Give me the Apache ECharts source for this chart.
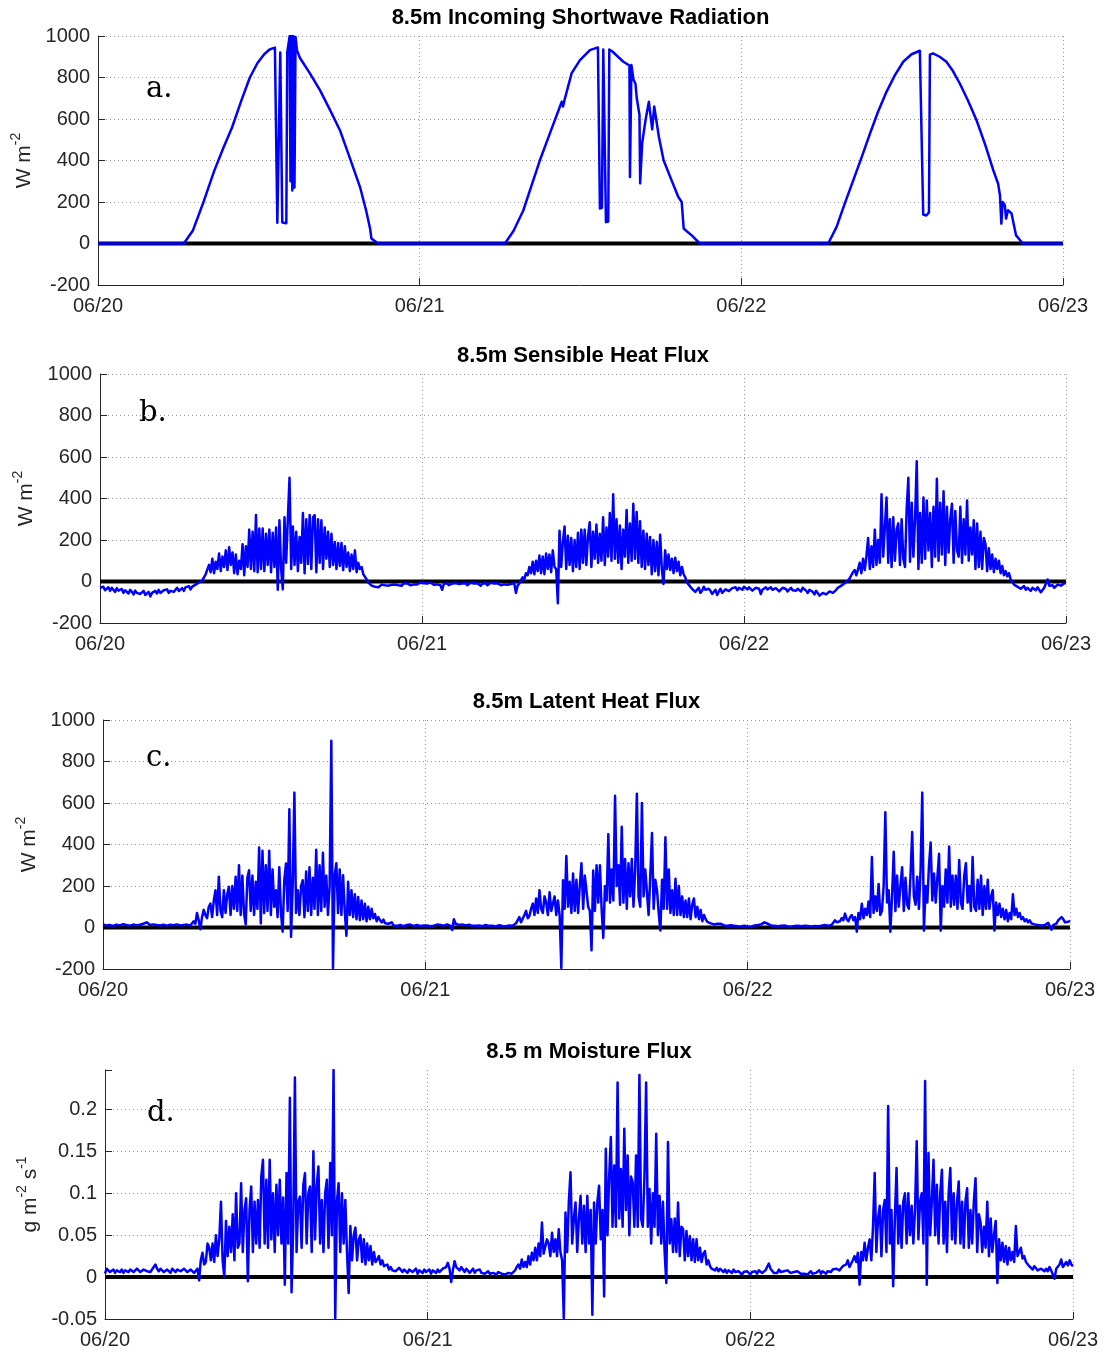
<!DOCTYPE html>
<html><head><meta charset="utf-8">
<script src="https://cdn.jsdelivr.net/npm/echarts@6/dist/echarts.min.js"></script>
<style>html,body{margin:0;padding:0;background:#fff}#c{width:1104px;height:1355px}</style>
</head><body><div id="c"></div><script>
// ---------- data ----------
const xTickLabels = ['06/20', '06/21', '06/22', '06/23'];
const fluxTickLabels = ['-200', '0', '200', '400', '600', '800', '1000'];
const moistureTickLabels = ['-0.05', '0', '0.05', '0.1', '0.15', '0.2'];
const titles = ['8.5m Incoming Shortwave Radiation', '8.5m Sensible Heat Flux', '8.5m Latent Heat Flux', '8.5 m Moisture Flux'];
const panelLetters = ['a.', 'b.', 'c.', 'd.'];
const STEP_HOURS = 0.125; // 7.5-minute samples for the flux series

// shortwave: [hour since 06/20 00:00, W m-2]
const shortwave = [
  [0,0],[6.4,0],[7.07,61],[7.9,205],[8.67,350],[9.35,460],[10.0,559],[10.7,690],[11.33,800],[11.9,870],[12.4,912],[12.8,935],[13.2,944],[13.33,949],
  [13.38,100],[13.5,104],[13.6,920],[13.7,925],[13.75,101],[14.05,98],[14.12,920],[14.22,925],[14.3,1000],[14.36,300],[14.42,1000],[14.5,256],
  [14.58,1000],[14.66,270],[14.74,995],[14.85,930],[15.07,894],[15.8,821],[16.56,739],[17.3,645],[18.05,546],[18.8,410],[19.55,272],[20.0,160],
  [20.3,72],[20.4,24],[20.9,0],
  [30.36,0],[31.0,60],[31.73,159],[32.35,280],[32.97,401],[33.8,545],[34.6,683],[34.7,660],[34.8,690],[35.34,821],[35.96,884],[36.7,932],[37.3,945],
  [37.45,169],[37.6,172],[37.7,935],[37.82,930],[37.9,103],[38.07,106],[38.15,935],[38.4,924],[39.2,876],[39.65,858],[39.69,320],[39.8,860],
  [39.95,790],[40.1,770],[40.2,700],[40.4,620],[40.45,290],[40.6,483],[40.85,594],[41.1,683],[41.35,550],[41.5,660],[41.85,513],[42.2,401],
  [42.7,320],[43.3,224],[43.55,200],[43.7,72],[44.0,55],[44.3,39],[44.9,0],
  [54.48,0],[55.1,79],[55.7,190],[56.35,304],[57.0,420],[57.6,530],[58.2,635],[58.83,731],[59.45,810],[60.08,876],[60.7,912],[61.32,929],
  [61.57,140],[61.8,135],[62.0,150],[62.07,910],[62.3,916],[62.8,900],[63.3,876],[63.8,830],[64.3,771],[64.9,690],[65.55,594],[66.2,475],
  [66.8,353],[67.16,288],[67.3,230],[67.4,96],[67.5,200],[67.66,185],[67.75,120],[67.9,160],[68.16,145],[68.5,39],[69.0,0],[72,0]
];

// sensible heat flux, W m-2, every 7.5 min from 06/20 00:00 (one row = 2 h)
const sensible = [
  -30,-38,-25,-42,-35,-28,-45,-30,-38,-50,-32,-44,-40,-36,-55,-42,
  -45,-58,-40,-50,-62,-44,-55,-48,-60,-52,-45,-65,-58,-50,-72,-55,
  -50,-45,-58,-40,-55,-62,-42,-50,-38,-55,-45,-36,-50,-42,-30,-46,
  -40,-32,-45,-28,-36,-22,-38,-25,-30,-15,-22,-5,-10,5,20,35,
  30,80,45,110,40,95,60,135,50,120,70,150,55,165,80,140,
  40,130,35,100,60,180,30,170,70,250,60,240,50,320,45,255,
  60,255,50,230,80,250,45,235,70,260,-40,295,60,-38,310,90,
  300,500,60,265,80,240,50,215,90,330,40,300,85,320,60,310,
  320,45,300,90,295,60,260,110,240,70,230,80,190,60,185,75,
  185,55,170,70,140,50,130,60,150,45,90,60,70,35,40,10,
  -5,-12,-20,-15,-25,-18,-28,-20,-15,-22,-18,-12,-20,-25,-16,-10,
  -15,-22,-18,-12,-20,-10,-16,-8,-12,-18,-10,-15,-8,-14,-12,-6,
  -12,-8,-15,-10,-18,-5,-12,-16,-10,-14,-8,-18,-40,-12,-15,-8,
  -18,-12,-10,-16,-8,-14,-12,-6,-10,-15,-8,-18,-12,-6,-14,-10,
  -16,-8,-12,-20,-10,-15,-8,-18,-12,-6,-14,-10,-16,-8,-12,-18,
  -10,-14,-8,-16,-20,-12,-15,-8,-55,-20,-10,5,20,10,40,30,
  70,40,95,35,100,50,125,40,120,35,135,60,130,45,150,70,
  60,-105,245,70,190,265,60,220,80,210,50,200,70,235,60,250,
  90,250,80,220,285,70,240,110,275,90,230,100,310,80,260,120,
  330,100,420,110,300,90,270,60,250,120,345,90,280,100,375,110,
  335,90,290,70,245,60,230,80,215,35,200,50,190,30,225,60,
  -12,150,60,130,55,110,40,115,50,95,30,70,35,20,-5,-15,
  -20,-35,-28,-50,-40,-30,-55,-45,-25,-40,-48,-35,-45,-60,-52,-40,
  -65,-48,-35,-55,-50,-38,-30,-46,-45,-32,-38,-28,-42,-30,-35,-40,
  -25,-32,-38,-28,-30,-44,-42,-30,-22,-35,-60,-40,-35,-28,-38,-30,
  -28,-40,-45,-32,-32,-48,-40,-30,-25,-36,-48,-40,-30,-42,-38,-45,
  -35,-42,-48,-30,-28,-44,-55,-40,-40,-50,-62,-45,-45,-68,-75,-55,
  -50,-62,-70,-48,-42,-55,-58,-40,-30,-38,-20,-25,-8,-12,5,15,
  30,45,55,30,60,90,40,110,55,120,210,60,170,70,250,80,
  200,90,420,120,260,405,90,300,70,310,100,250,280,80,300,110,
  70,350,500,95,380,120,300,580,60,330,90,405,110,390,150,330,
  70,360,120,495,100,380,130,435,80,360,140,300,375,90,340,150,
  120,360,90,300,130,390,100,260,130,295,60,280,70,240,60,210,
  180,50,160,60,130,45,110,60,100,40,75,30,50,25,40,10,
  5,-15,-10,-25,-20,-35,-28,-22,-40,-30,-25,-45,-30,-38,-42,-28,
  -35,-52,-45,-30,-38,10,-20,-25,-18,-30,-22,-15,-10,-20,-12,-8,
  -8
];

// latent heat flux, W m-2, every 7.5 min
const latent = [
  15,12,10,14,12,9,8,12,14,11,10,13,16,12,12,10,
  9,12,14,10,11,13,13,10,18,15,25,28,12,15,15,12,
  12,10,10,13,14,11,9,12,13,10,11,14,15,12,10,13,
  12,10,14,11,10,15,30,18,70,35,-8,50,85,60,45,100,
  115,50,130,180,60,245,80,50,180,70,160,196,60,200,90,245,
  80,300,60,250,70,15,240,276,80,250,60,220,90,385,20,370,
  70,300,80,370,60,280,100,180,50,290,70,-20,230,308,80,570,
  -45,200,650,70,180,60,200,228,50,270,80,290,60,240,90,375,
  60,300,80,360,100,250,60,200,900,-195,250,310,70,280,60,252,
  80,-40,220,60,180,50,160,40,147,35,130,40,115,30,100,40,
  90,45,65,30,50,35,25,38,20,15,18,12,25,10,15,8,
  8,12,15,6,10,12,6,14,10,8,5,12,14,7,8,10,
  8,10,12,6,5,9,10,14,7,12,14,9,9,15,12,8,
  -12,40,18,25,12,15,15,10,10,13,13,8,9,11,8,12,
  10,8,6,11,12,7,8,10,9,6,5,10,11,8,7,12,
  6,9,10,7,8,12,20,15,50,25,30,60,80,45,55,90,
  115,60,140,70,180,90,70,150,120,60,170,80,80,150,60,130,
  60,-195,228,90,345,100,220,70,260,80,230,70,200,310,90,250,
  250,100,80,-110,275,80,300,120,300,90,-50,200,130,450,120,280,
  130,635,200,300,110,485,120,330,90,310,150,330,100,280,645,150,
  100,600,150,280,275,60,250,455,90,230,180,70,-15,230,90,435,
  90,280,70,180,60,235,60,200,60,150,50,130,50,140,40,110,
  140,50,100,40,85,30,60,40,27,35,20,25,15,20,18,12,
  18,12,10,14,8,12,11,6,8,10,6,9,5,8,9,6,
  5,8,3,7,10,6,12,10,15,12,25,30,18,12,10,8,
  8,12,6,10,9,5,10,7,5,9,4,8,7,5,9,6,
  6,4,8,5,7,9,5,8,7,10,6,12,9,7,12,8,
  9,15,12,20,35,25,20,30,45,35,67,40,30,50,60,35,
  50,-20,70,40,115,45,90,60,125,50,340,70,150,80,210,60,
  80,200,555,120,180,-20,150,365,80,250,100,200,290,80,240,110,
  90,250,460,150,110,245,90,280,650,-15,200,120,300,410,130,260,
  120,240,355,-15,200,100,280,120,390,100,250,110,250,90,325,120,
  90,250,310,120,200,80,340,100,80,230,90,250,60,200,90,230,
  90,150,180,-15,120,60,115,50,90,40,85,30,70,40,160,60,
  90,50,70,40,50,30,40,25,35,20,25,15,20,12,18,10,
  18,12,10,22,15,-10,12,20,20,35,28,50,40,25,30,28,
  32
];

// moisture flux, g m-2 s-1, every 7.5 min
const moisture = [
  .004,.010,.008,.006,.007,.009,.005,.008,.007,.006,.009,.005,.008,.007,.006,.009,
  .009,.006,.007,.010,.008,.006,.006,.009,.010,.007,.009,.006,.007,.012,.015,.010,
  .007,.010,.009,.006,.006,.009,.008,.005,.010,.008,.006,.009,.008,.007,.007,.010,
  .009,.006,.006,.009,.008,.005,.004,.010,-.004,.020,.029,.015,.018,.040,.035,.020,
  .040,.018,.050,.025,.045,.090,.020,.000,.067,.025,.060,.030,.075,.020,.100,.035,
  .040,.112,.030,.080,.094,-.005,.080,.108,.030,.090,.040,.092,.035,.120,.140,.040,
  .116,.035,.140,.045,.100,.030,.110,.050,.116,.040,.095,-.009,.124,.040,.214,-.018,
  .060,.238,.030,.090,.096,.035,.110,.124,.040,.100,.108,.030,.150,.045,.110,.132,
  .040,.092,.030,.100,.116,.035,.136,.050,.247,-.049,.090,.112,.030,.100,.040,.092,
  .030,-.019,.061,.020,.050,.059,.020,.045,.050,.018,.045,.015,.040,.020,.037,.015,
  .030,.018,.021,.025,.015,.020,.013,.012,.015,.009,.012,.008,.010,.007,.009,.011,
  .010,.006,.009,.007,.005,.009,.008,.006,.006,.010,.004,.008,.007,.005,.009,.006,
  .006,.009,.004,.008,.007,.005,.009,.006,.005,.010,.008,.012,.017,.010,-.006,.008,
  .019,.012,.010,.008,.012,.009,.006,.010,.009,.005,.007,.010,.005,.008,.006,.009,
  .005,.007,.004,.006,.007,.004,.006,.005,.005,.003,.006,.004,.004,.006,.003,.005,
  .005,.003,.004,.006,.008,.012,.015,.010,.021,.012,.018,.012,.025,.015,.029,.020,
  .035,.020,.040,.025,.065,.028,.029,.045,.040,.025,.053,.030,.045,.025,.057,.030,
  .020,-.049,.077,.030,.090,.125,.040,.070,.089,.030,.070,.097,.040,.085,.030,.097,
  .040,.080,-.045,.089,.040,.090,.109,.045,.080,-.023,.153,.050,.120,.167,.060,.133,
  .060,.232,.070,.129,.060,.177,.080,.145,.050,.120,.113,.060,.145,.060,.241,.070,
  .060,.120,.232,.060,.105,.040,.100,.060,.171,.050,.097,.040,.090,.030,-.007,.161,
  .040,.069,.030,.070,.030,.089,.025,.060,.057,.020,.055,.025,.049,.020,.045,.018,
  .045,.020,.035,.018,.028,.031,.015,.020,.013,.010,.012,.008,.011,.007,.010,.009,
  .006,.009,.005,.008,.007,.005,.009,.006,.004,.007,.005,.003,.006,.004,.007,.005,
  .003,.006,.004,.007,.004,.008,.006,.005,.006,.008,.012,.016,.010,.008,.005,.007,
  .005,.009,.006,.004,.007,.005,.008,.006,.005,.003,.006,.004,.007,.005,.004,.006,
  .004,.006,.003,.005,.007,.004,.006,.005,.005,.008,.004,.007,.006,.004,.007,.005,
  .006,.009,.007,.010,.012,.008,.010,.013,.012,.015,.020,.012,.014,.020,.025,.018,
  .029,-.009,.030,.020,.041,.020,.035,.045,.020,.060,.124,.030,.070,.085,.025,.080,
  .092,.030,.204,.040,.080,-.011,.070,.130,.040,.085,.035,.090,.100,.040,.100,.050,
  .085,.040,.080,.162,.045,.090,.100,.040,.234,-.009,.148,.050,.090,.140,.050,.110,
  .040,.100,.128,.040,.090,.030,.100,.130,.045,.100,.040,.090,.114,.040,.090,.035,
  .090,.106,.035,.080,.040,.090,.118,.030,.075,.065,.030,.060,.035,.090,.025,.070,
  .030,.050,.067,-.007,.045,.020,.041,.018,.037,.015,.035,.020,.030,.018,.061,.025,
  .030,.035,.022,.025,.018,.020,.013,.015,.009,.013,.011,.008,.006,.010,.009,.007,
  .010,.007,.012,.008,.006,-.002,.010,.012,.015,.021,.012,.010,.018,.014,.020,.015,
  .013
];

// ---------- chart ----------
const FONT = '"Liberation Sans", Arial, Helvetica, sans-serif';
const TXT = '#262626';
const grids = [
  {left: 98,  right: 41, top: 36,   height: 249},
  {left: 100, right: 38, top: 374,  height: 249},
  {left: 103, right: 34, top: 720,  height: 249},
  {left: 105, right: 31, top: 1070, height: 249}
];
const yNames = ['{t|W m}{s|-2}', '{t|W m}{s|-2}', '{t|W m}{s|-2}', '{t|g m}{s|-2}{t| s}{s|-1}'];
const yGaps = [54, 52, 50, 49];
const titleY = [18, 356, 702, 1052];
const letterPos = [[146, 89], [139, 413], [146, 758], [147, 1113]];

const toSeries = arr => arr.map((v, i) => [i * STEP_HOURS, v]);
const seriesData = [shortwave, toSeries(sensible), toSeries(latent), toSeries(moisture)];

function fluxLabel(v) {
  const i = Math.round((v + 200) / 200);
  return Math.abs(v - (i * 200 - 200)) < 1e-6 ? fluxTickLabels[i] : '';
}
function moistLabel(v) {
  const i = Math.round((v + 0.05) / 0.05);
  return Math.abs(v - (i * 0.05 - 0.05)) < 1e-6 && moistureTickLabels[i] !== undefined ? moistureTickLabels[i] : '';
}

const dotted = {type: [1, 3], color: '#9a9a9a', width: 1};
const xAxes = [], yAxes = [], series = [], graphics = [];
grids.forEach((g, k) => {
  xAxes.push({
    gridIndex: k, type: 'value', min: 0, max: 72, interval: 24,
    axisLine: {show: true, onZero: false, lineStyle: {color: TXT, width: 1}},
    axisTick: {show: true, inside: true, length: 7, lineStyle: {color: TXT}},
    axisLabel: {formatter: v => xTickLabels[Math.round(v / 24)], fontSize: 20, color: TXT, fontFamily: FONT, margin: 11, showMinLabel: true, showMaxLabel: true},
    splitLine: {show: true, showMinLine: false, lineStyle: dotted}
  });
  const moist = k === 3;
  yAxes.push({
    gridIndex: k, type: 'value',
    min: moist ? -0.05 : -200, max: moist ? 0.247 : 1000, interval: moist ? 0.05 : 200,
    axisLine: {show: true, lineStyle: {color: TXT, width: 1}},
    axisTick: {show: true, inside: true, length: 7, lineStyle: {color: TXT}},
    axisLabel: {formatter: moist ? moistLabel : fluxLabel, fontSize: 20, color: TXT, fontFamily: FONT, margin: 8},
    splitLine: {show: true, showMaxLine: !moist, lineStyle: dotted},
    name: yNames[k], nameLocation: 'middle', nameRotate: 90, nameGap: yGaps[k],
    nameTextStyle: {color: TXT, fontFamily: FONT, rich: {
      t: {fontSize: 21, fontFamily: FONT, color: TXT, lineHeight: 30},
      s: {fontSize: 14, fontFamily: FONT, color: TXT, verticalAlign: 'top', lineHeight: 30}
    }}
  });
  series.push({
    type: 'line', xAxisIndex: k, yAxisIndex: k, data: [[0, 0], [72, 0]],
    symbol: 'none', silent: true, z: 1, lineStyle: {color: '#000', width: 4}
  });
  series.push({
    type: 'line', xAxisIndex: k, yAxisIndex: k, data: seriesData[k],
    symbol: 'none', silent: true, z: 2, sampling: null,
    lineStyle: {color: '#0000ff', width: 2.5, join: 'round'}
  });
  const cx = g.left + (1104 - g.left - g.right) / 2;
  graphics.push({type: 'text', x: cx, y: titleY[k], silent: true,
    style: {text: titles[k], font: 'bold 22px ' + FONT, fill: '#000', align: 'center', verticalAlign: 'middle'}});
  graphics.push({type: 'text', x: letterPos[k][0], y: letterPos[k][1], silent: true,
    style: {text: panelLetters[k], font: '29px "DejaVu Serif", serif', fill: '#000', align: 'left', verticalAlign: 'middle'}});
});

const chart = echarts.init(document.getElementById('c'), null, {renderer: 'canvas'});
chart.setOption({
  animation: false,
  backgroundColor: '#fff',
  grid: grids.map(g => Object.assign({outerBoundsMode: 'none', containLabel: false}, g)),
  xAxis: xAxes, yAxis: yAxes, series: series, graphic: graphics
});
</script></body></html>
